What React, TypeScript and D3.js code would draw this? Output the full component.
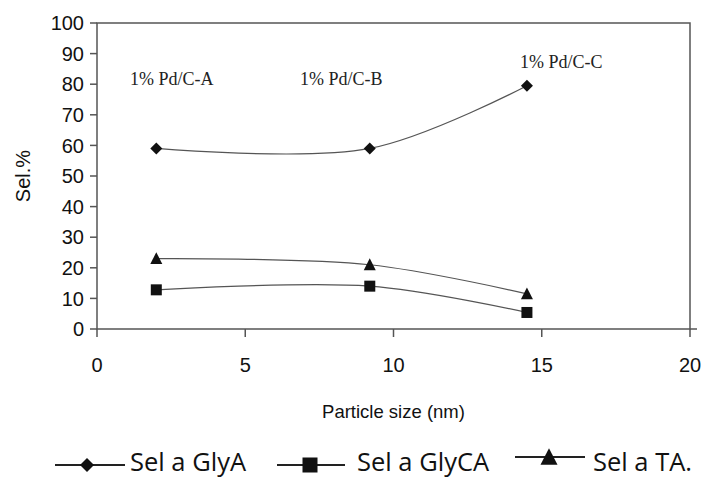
import * as d3 from "d3";

const particleSize = [2, 9.2, 14.5];
const selGlyA = [59, 59, 79.5];
const selGlyCA = [12.8, 14, 5.4];
const selTA = [23, 21, 11.5];
const catalystLabels = ["1% Pd/C-A", "1% Pd/C-B", "1% Pd/C-C"];
const xTicks = [0, 5, 10, 15, 20];
const yTicks = [0, 10, 20, 30, 40, 50, 60, 70, 80, 90, 100];
const legendNames = ["Sel a GlyA", "Sel a GlyCA", "Sel a TA."];

const W = 706;
const H = 479;
const left = 97;
const right = 690;
const top = 23;
const bottom = 329;

const x = d3.scaleLinear().domain([0, 20]).range([left, right]);
const y = d3.scaleLinear().domain([0, 100]).range([bottom, top]);

const line = d3
  .line<number>()
  .x((_, i) => x(particleSize[i]))
  .y((d) => y(d))
  .curve(d3.curveCatmullRom.alpha(0.5));

const axisFont = "Liberation Sans, Arial, sans-serif";
const lineColor = "#555";

function Diamond({ cx, cy, r }: { cx: number; cy: number; r: number }) {
  return (
    <path
      d={`M${cx},${cy - r}L${cx + r},${cy}L${cx},${cy + r}L${cx - r},${cy}Z`}
      fill="#111"
    />
  );
}

function Square({ cx, cy, s }: { cx: number; cy: number; s: number }) {
  return <rect x={cx - s / 2} y={cy - s / 2} width={s} height={s} fill="#111" />;
}

function Triangle({ cx, cy, s }: { cx: number; cy: number; s: number }) {
  const h = s * 0.9;
  return (
    <path
      d={`M${cx},${cy - h / 2 - 1}L${cx + s / 2},${cy + h / 2}L${cx - s / 2},${cy + h / 2}Z`}
      fill="#111"
    />
  );
}

// where each catalyst label sits
const labelPos = [
  { x: 130, y: 85 },
  { x: 300, y: 85 },
  { x: 520, y: 68 },
];

export default function App() {
  return (
    <svg
      width={W}
      height={H}
      style={{ position: "absolute", left: 0, top: 0, background: "#fff" }}
    >
      {/* frame */}
      <rect
        x={left}
        y={top}
        width={right - left}
        height={bottom - top}
        fill="none"
        stroke="#555"
        strokeWidth={1.5}
      />
      <line x1={right} x2={right + 7} y1={bottom} y2={bottom} stroke="#555" strokeWidth={1.5} />

      {/* y axis */}
      {yTicks.map((t) => (
        <g key={t}>
          <line x1={left - 7} x2={left} y1={y(t)} y2={y(t)} stroke="#555" strokeWidth={1.5} />
          <text
            x={left - 13}
            y={y(t)}
            dy="0.36em"
            textAnchor="end"
            fontFamily={axisFont}
            fontSize={20}
            fill="#111"
          >
            {t}
          </text>
        </g>
      ))}

      {/* x axis */}
      {xTicks.map((t) => (
        <g key={t}>
          <line x1={x(t)} x2={x(t)} y1={bottom} y2={bottom + 8} stroke="#555" strokeWidth={1.5} />
          <text
            x={x(t)}
            y={372}
            textAnchor="middle"
            fontFamily={axisFont}
            fontSize={20}
            fill="#111"
          >
            {t}
          </text>
        </g>
      ))}

      <text
        x={(left + right) / 2}
        y={418}
        textAnchor="middle"
        fontFamily={axisFont}
        fontSize={18.5}
        fill="#111"
      >
        Particle size (nm)
      </text>
      <text
        transform={`translate(30,${(top + bottom) / 2}) rotate(-90)`}
        textAnchor="middle"
        fontFamily={axisFont}
        fontSize={20}
        fill="#111"
      >
        Sel.%
      </text>

      {/* catalyst labels */}
      {catalystLabels.map((l, i) => (
        <text
          key={l}
          x={labelPos[i].x}
          y={labelPos[i].y}
          fontFamily="Liberation Serif, Times New Roman, serif"
          fontSize={18}
          fill="#222"
        >
          {l}
        </text>
      ))}

      {/* series */}
      <path d={line(selGlyA) ?? ""} fill="none" stroke={lineColor} strokeWidth={1.2} />
      <path d={line(selGlyCA) ?? ""} fill="none" stroke={lineColor} strokeWidth={1.2} />
      <path d={line(selTA) ?? ""} fill="none" stroke={lineColor} strokeWidth={1.2} />

      {selGlyA.map((v, i) => (
        <Diamond key={"a" + i} cx={x(particleSize[i])} cy={y(v)} r={6} />
      ))}
      {selGlyCA.map((v, i) => (
        <Square key={"c" + i} cx={x(particleSize[i])} cy={y(v)} s={11} />
      ))}
      {selTA.map((v, i) => (
        <Triangle key={"t" + i} cx={x(particleSize[i])} cy={y(v)} s={12} />
      ))}

      {/* legend */}
      <g fontFamily="Open Sans, sans-serif" fontSize={25.5} fill="#111">
        <line x1={55} x2={125} y1={465} y2={465} stroke="#222" strokeWidth={2} />
        <Diamond cx={87} cy={465} r={7} />
        <text x={130} y={471}>{legendNames[0]}</text>

        <line x1={277} x2={345} y1={465} y2={465} stroke="#222" strokeWidth={2} />
        <Square cx={310} cy={465} s={15} />
        <text x={357} y={471}>{legendNames[1]}</text>

        <line x1={515} x2={585} y1={457} y2={457} stroke="#222" strokeWidth={2} />
        <Triangle cx={549} cy={457} s={17} />
        <text x={593} y={471}>{legendNames[2]}</text>
      </g>
    </svg>
  );
}
